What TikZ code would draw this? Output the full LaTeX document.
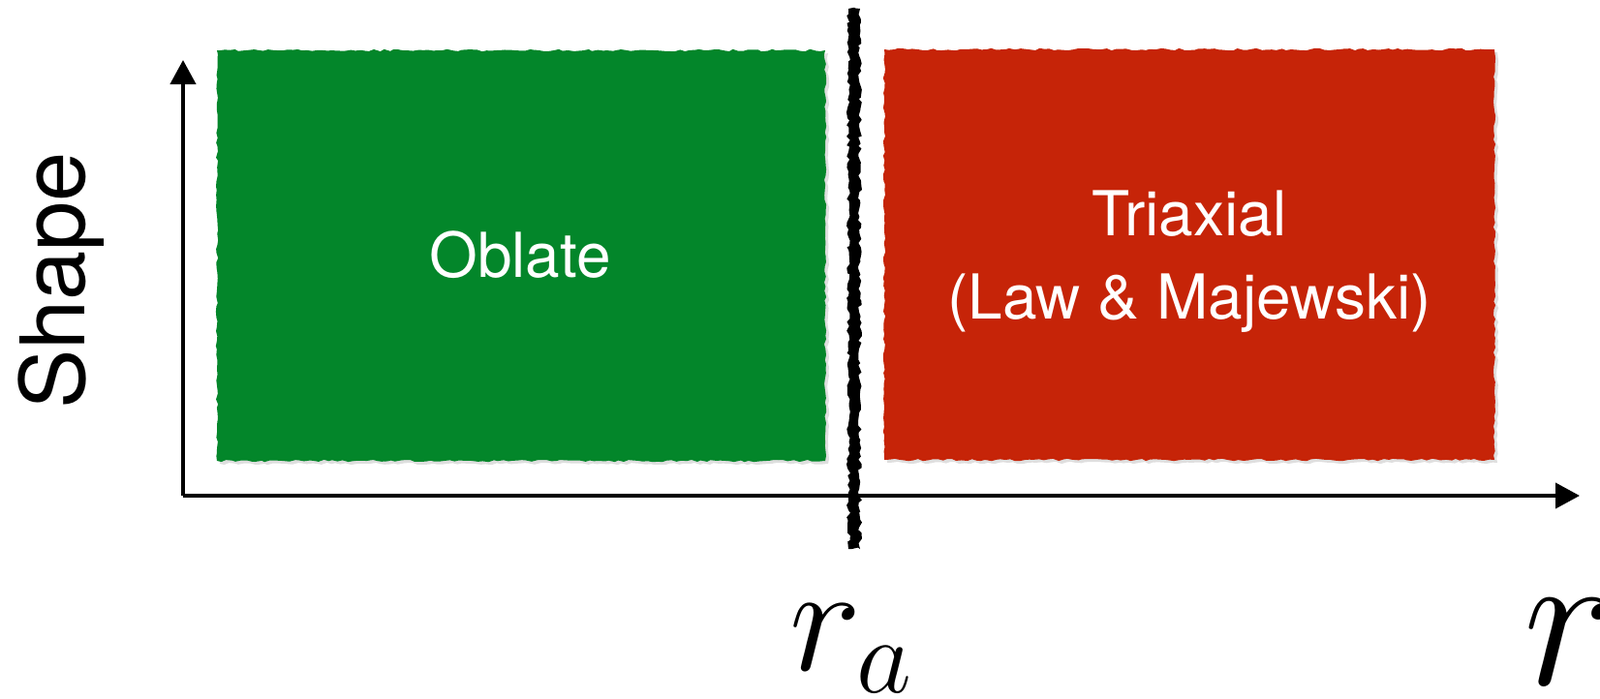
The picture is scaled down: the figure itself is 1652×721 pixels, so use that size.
\RequirePackage{fix-cm}
\documentclass[tikz,border=0pt]{standalone}
\usepackage{fontspec}
\newfontfamily\heros{TeX Gyre Heros}
\usetikzlibrary{arrows.meta,decorations.pathmorphing,shadows}
\definecolor{oblgreen}{RGB}{3,134,42}
\definecolor{trired}{RGB}{198,36,8}
\tikzset{
  axis/.style={line width=4pt,-{Triangle[length=25pt,width=26pt]}},
  region/.style={draw=none, decorate, decoration={random steps,segment length=5pt,amplitude=1.2pt},
     drop shadow={opacity=0.25,shadow xshift=3pt,shadow yshift=-3pt}},
  regionlabel/.style={text=white,font=\heros\fontsize{64}{86}\selectfont,align=center},
  chalk/.style={fill=black,decorate,decoration={random steps,segment length=4pt,amplitude=2pt}},
}
\begin{document}
\begin{tikzpicture}[x=1pt,y=-1pt]
\useasboundingbox[fill=white] (0,0) rectangle (1652,721);
% regions
\fill[region,fill=oblgreen] (224,52) rectangle (852,476);
\fill[region,fill=trired] (913,51) rectangle (1543,475);
\node[regionlabel] (obl) at (537,263) {Oblate};
\node[regionlabel] (tri) at (1228,270) {Triaxial\\(Law \& Majewski)};
% axes
\coordinate (O) at (189,512);
\coordinate (ytip) at (189,62);
\coordinate (xtip) at (1631,512);
\draw[axis] (O) -- (ytip);
\draw[axis] (O) -- (xtip);
% chalk divider
\fill[chalk] (876,9) rectangle (888,567);
% labels
\node[rotate=90,font=\heros\fontsize{92}{92}\selectfont] (shape) at (63,290) {Shape};
\node[anchor=base west,inner sep=0pt,font=\fontsize{158}{158}\selectfont] (ra) at (815,692) {$r_a$};
\node[anchor=base west,inner sep=0pt,font=\fontsize{205}{205}\selectfont] (r) at (1573,707) {$r$};
\end{tikzpicture}
\end{document}
